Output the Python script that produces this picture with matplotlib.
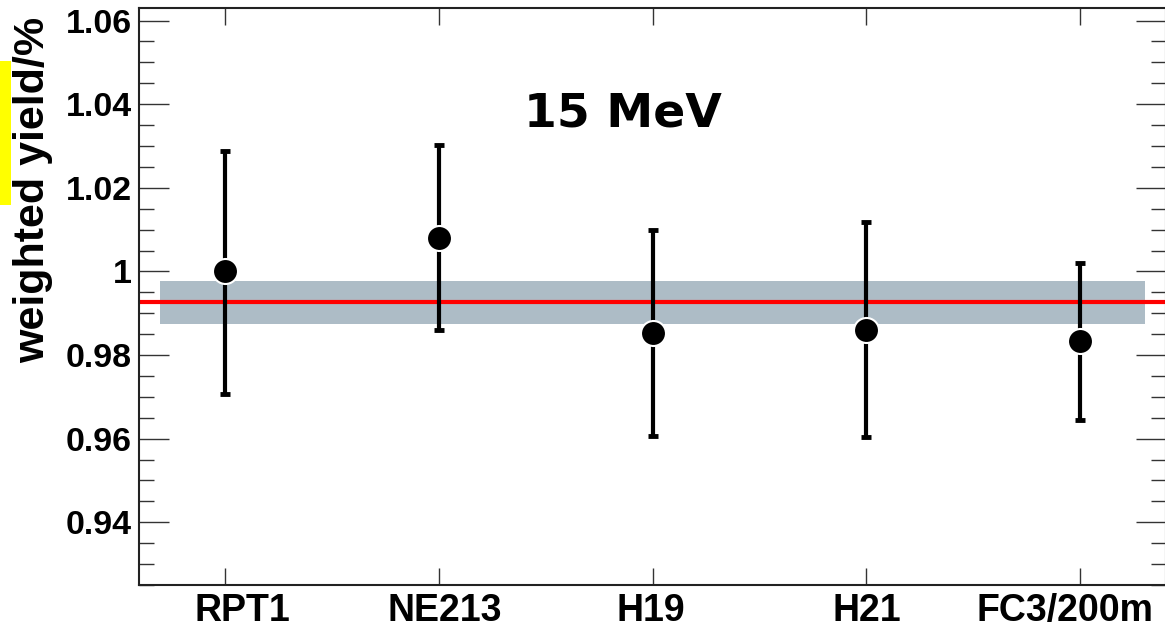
import matplotlib
matplotlib.use("Agg")
import matplotlib.pyplot as plt
import matplotlib.transforms as mtransforms
from matplotlib.patches import Rectangle
from matplotlib.ticker import MultipleLocator, FixedLocator

# detectors and weighted yields
detectors = ["RPT1", "NE213", "H19", "H21", "FC3/200m"]
yields = [1.0000, 1.0081, 0.9852, 0.9859, 0.9833]
err_hi = [1.0289, 1.0303, 1.0100, 1.0117, 1.0019]
err_lo = [0.9708, 0.9859, 0.9606, 0.9603, 0.9644]

mean_yield = 0.9927
band_lo = 0.9875
band_hi = 0.9977
band_x = [0.7, 5.3]

title_text = "15 MeV"
ylabel_text = "weighted yield/%"

# small horizontal nudges of the x labels (pixels), as seen in the reference
label_shift_px = [18, 6, -2, 0, -15]

W, H = 1165, 627
fig = plt.figure(figsize=(W / 100, H / 100), dpi=100)
ax = fig.add_axes([139 / W, 42 / H, (1166 - 139) / W, (619 - 42) / H])

xs = list(range(1, len(detectors) + 1))

# uncertainty band and mean line
ax.add_patch(Rectangle((band_x[0], band_lo), band_x[1] - band_x[0], band_hi - band_lo,
                       facecolor="#adbcc6", edgecolor="none", zorder=1))
ax.axhline(mean_yield, color="#ff0000", lw=3, zorder=2)

lower = [y - lo for y, lo in zip(yields, err_lo)]
upper = [hi - y for y, hi in zip(yields, err_hi)]
ax.errorbar(xs, yields, yerr=[lower, upper], fmt="none", ecolor="black",
            elinewidth=3, capsize=3.5, capthick=3.5, zorder=3)
ax.plot(xs, yields, "o", color="black", ms=18, mec="white", mew=1.5, zorder=4)

ax.set_xlim(0.6, 5.4)
ax.set_ylim(0.925, 1.063)

ax.xaxis.set_major_locator(FixedLocator(xs))
ax.set_xticklabels(detectors, fontsize=27, fontweight="bold", family="Liberation Sans")
ax.yaxis.set_major_locator(MultipleLocator(0.02))
ax.yaxis.set_minor_locator(MultipleLocator(0.005))
ax.yaxis.set_major_formatter(plt.FuncFormatter(lambda v, p: f"{v:g}"))
ax.tick_params(axis="y", labelsize=24.5)

ax.tick_params(axis="x", which="major", direction="in", length=12, width=1,
               color="#333333", top=True, bottom=True, pad=6)
ax.tick_params(axis="y", which="major", direction="in", length=21.6, width=1,
               color="#333333", left=True, right=True, pad=5)
ax.tick_params(axis="y", which="minor", direction="in", length=10.8, width=1,
               color="#333333", left=True, right=True)
ax.tick_params(axis="x", which="minor", bottom=False, top=False)

for lab in ax.get_yticklabels():
    lab.set_fontweight("bold")
    lab.set_family("Liberation Sans")

for sp in ax.spines.values():
    sp.set_linewidth(1.5)
    sp.set_color("#222222")

for lab, dx in zip(ax.get_xticklabels(), label_shift_px):
    lab.set_transform(lab.get_transform() + mtransforms.Affine2D().translate(dx, 0))

ax.text(0.471, 0.794, title_text, transform=ax.transAxes, ha="center", va="baseline",
        fontsize=34, fontweight="bold", family="DejaVu Sans")

# yellow highlight mark at the left edge
fig.patches.append(Rectangle((0, 1 - 205 / H), 11 / W, (205 - 61) / H,
                             transform=fig.transFigure, facecolor="#ffff00",
                             edgecolor="none", zorder=0))
fig.text(33 / W, 1 - 190 / H, ylabel_text, rotation=90, ha="center", va="center",
         fontsize=31, fontweight="bold", family="Liberation Sans")

fig.savefig("out.png", dpi=100)
